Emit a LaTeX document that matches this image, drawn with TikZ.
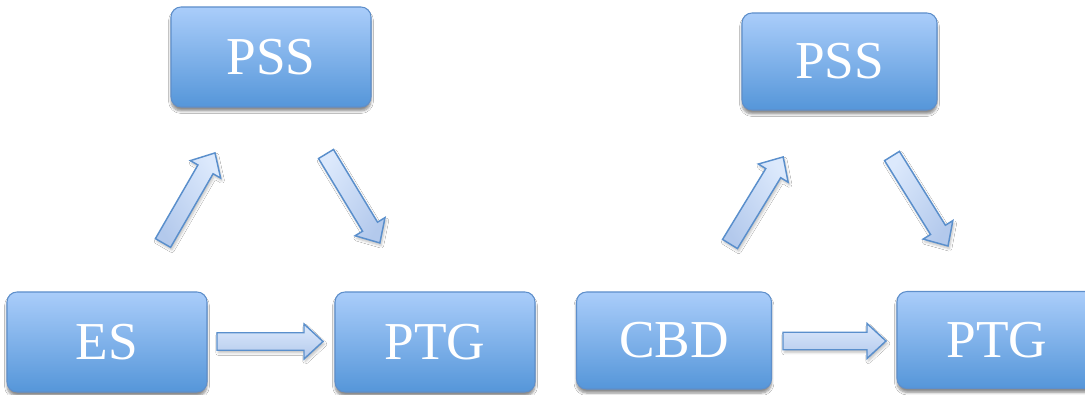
\documentclass[tikz,border=0pt]{standalone}
\usepackage{fontspec}
\setmainfont{Liberation Serif}
\usetikzlibrary{shadows.blur}
\definecolor{boxtop}{HTML}{AACDFA}
\definecolor{boxbot}{HTML}{5596D9}
\definecolor{boxline}{HTML}{5E8FCB}
\definecolor{arrtop}{HTML}{DCE9FC}
\definecolor{arrbot}{HTML}{B3C9EC}
\definecolor{arrline}{HTML}{5A8FCC}
\begin{document}
\begin{tikzpicture}[x=0.75pt,y=-0.75pt,
  box/.style={rounded corners=7.5pt, draw=boxline, line width=0.8pt,
    top color=boxtop, bottom color=boxbot, text=white,
    font=\fontsize{40}{46}\selectfont, inner sep=0pt,
    minimum width=150pt, minimum height=75pt,
    blur shadow={shadow xshift=0pt, shadow yshift=-3pt, shadow opacity=45, shadow blur steps=6}},
  smallbox/.style={box, minimum width=146.25pt, minimum height=72.75pt},
  arrowfill/.style={draw=arrline, line width=1.1pt, line join=miter,
    top color=arrtop, bottom color=arrbot,
    blur shadow={shadow xshift=1pt, shadow yshift=-2pt, shadow opacity=25, shadow blur steps=5}},
  pics/barrow/.style 2 args={code={
    \begin{scope}[rotate=#2]
    \path[arrowfill, shading angle=-#2]
      (0,-8.75) -- ({#1-19},-8.75) -- ({#1-19},-17.5) -- (#1,0)
      -- ({#1-19},17.5) -- ({#1-19},8.75) -- (0,8.75) -- cycle;
    \end{scope}}}
]
\useasboundingbox (0,0) rectangle (1085,395);
\clip (0,0) rectangle (1085,395);
\fill[white] (0,0) rectangle (1085,395);

% left diagram
\node[box] (pss1) at (271,57) {PSS};
\node[box] (es)   at (107,342) {ES};
\node[box] (ptg1) at (435,342) {PTG};
\pic (a1) at (217,341.5) {barrow={106}{0}};
\pic (a2) at (163,243) {barrow={104}{60}};
\pic (a3) at (326,154) {barrow={104}{-58.8}};

% right diagram
\node[smallbox] (pss2) at (839.5,61.5) {PSS};
\node[smallbox] (cbd)  at (674,340.5) {CBD};
\node[box, minimum height=72.75pt] (ptg2) at (997,340) {PTG};
\pic (b1) at (783,341) {barrow={103}{0}};
\pic (b2) at (730,244) {barrow={102}{58.6}};
\pic (b3) at (892,156) {barrow={106}{-58.1}};
\end{tikzpicture}
\end{document}
